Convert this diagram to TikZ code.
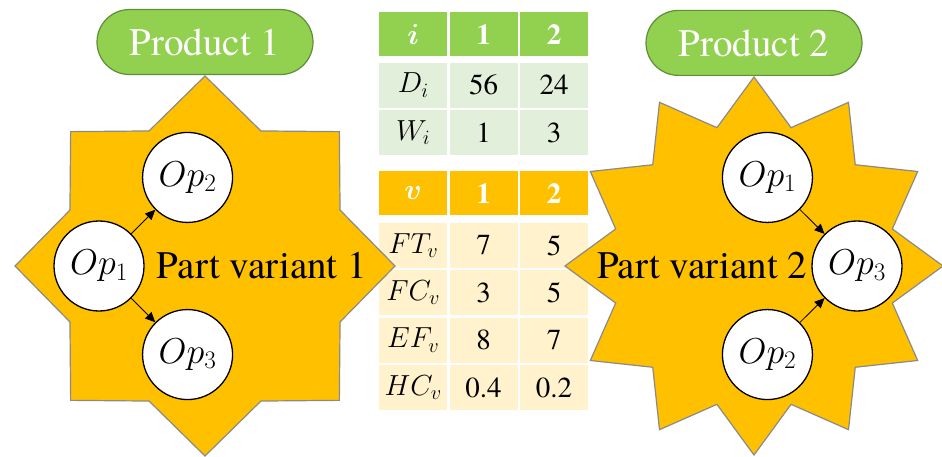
\RequirePackage{fix-cm}
\documentclass[tikz,border=0pt]{standalone}
\usepackage{amsmath}
\usepackage{fontspec}
\newfontfamily\tnr{texgyretermes}[Extension=.otf, UprightFont=*-regular, BoldFont=*-bold, ItalicFont=*-italic, BoldItalicFont=*-bolditalic]
\usepackage{xcolor}
\usepackage{tikz}
\usetikzlibrary{shapes.geometric, shapes.misc, arrows.meta, positioning}
\definecolor{prodgreen}{HTML}{92D050}
\definecolor{prodedge}{HTML}{5E8E3A}
\definecolor{greenlight}{HTML}{E2EFDA}
\definecolor{starorange}{HTML}{FFC000}
\definecolor{orangelight}{HTML}{FFF2CC}
\definecolor{staredge}{HTML}{8A8A8A}
\tikzset{
    product/.style={
        rounded rectangle,
        draw=prodedge,
        line width=1.2pt,
        fill=prodgreen,
        minimum width=216pt,
        minimum height=65pt,
        inner sep=0pt,
        text=white,
        font=\tnr\fontsize{39}{46}\selectfont
    },
    variant/.style={
        star,
        draw=staredge,
        line width=1.2pt,
        fill=starorange,
        inner sep=0pt
    },
    opnode/.style={
        circle,
        draw=black,
        line width=1.3pt,
        fill=white,
        minimum size=90pt,
        inner sep=0pt,
        font=\fontsize{36}{42}\selectfont
    },
    flow/.style={
        draw=black,
        line width=0.8pt,
        -{Triangle[length=10pt,width=9pt]}
    },
    varlabel/.style={
        inner sep=0pt,
        font=\tnr\fontsize{39}{46}\selectfont
    },
    cell/.style={
        rectangle,
        minimum width=68pt,
        minimum height=45pt,
        inner sep=0pt,
        font=\tnr\fontsize{29}{34}\selectfont
    },
    headA/.style={
        cell,
        minimum height=44pt,
        fill=prodgreen,
        text=white,
        font=\tnr\fontsize{29}{34}\selectfont\bfseries
    },
    bodyA/.style={
        cell,
        fill=greenlight
    },
    headB/.style={
        cell,
        minimum height=44pt,
        fill=starorange,
        text=white,
        font=\tnr\fontsize{29}{34}\selectfont\bfseries
    },
    bodyB/.style={
        cell,
        fill=orangelight
    }
}
\begin{document}
\begin{tikzpicture}[x=1pt, y=-1pt]
\useasboundingbox (0,0) rectangle (942,457);

% Product table
\node[headA, anchor=north west] (i0) at (379,12) {$\boldsymbol{i}$};
\node[headA, right=2pt of i0] (i1) {1};
\node[headA, right=2pt of i1] (i2) {2};

\node[bodyA, below=6pt of i0] (d0) {$D_i$};
\node[bodyA, below=6pt of i1] (d1) {56};
\node[bodyA, below=6pt of i2] (d2) {24};

\node[bodyA, below=2pt of d0] (w0) {$W_i$};
\node[bodyA, below=2pt of d1] (w1) {1};
\node[bodyA, below=2pt of d2] (w2) {3};

% Variant table
\node[headB, below=16pt of w0] (v0) {$\boldsymbol{v}$};
\node[headB, below=16pt of w1] (v1) {1};
\node[headB, below=16pt of w2] (v2) {2};

\node[bodyB, below=7pt of v0] (ft0) {$FT_v$};
\node[bodyB, below=7pt of v1] (ft1) {7};
\node[bodyB, below=7pt of v2] (ft2) {5};

\node[bodyB, below=2pt of ft0] (fc0) {$FC_v$};
\node[bodyB, below=2pt of ft1] (fc1) {3};
\node[bodyB, below=2pt of ft2] (fc2) {5};

\node[bodyB, below=2pt of fc0] (ef0) {$EF_v$};
\node[bodyB, below=2pt of fc1] (ef1) {8};
\node[bodyB, below=2pt of fc2] (ef2) {7};

\node[bodyB, below=2pt of ef0] (hc0) {$HC_v$};
\node[bodyB, below=2pt of ef1] (hc1) {0.4};
\node[bodyB, below=2pt of ef2] (hc2) {0.2};

% Part variant 1
\node[variant, star points=8, star point ratio=1.30, minimum size=380pt] (star1) at (205,266) {};
\node[opnode] (a1) at (99,266) {$Op_1$};
\node[opnode, above right=24pt and 24pt of a1] (a2) {$Op_2$};
\node[opnode, below right=24pt and 24pt of a1] (a3) {$Op_3$};
\draw[flow] (a1) -- (a2);
\draw[flow] (a1) -- (a3);
\node[varlabel, right=12pt of a1] (pv1) {Part variant 1};

% Part variant 2
\node[variant, star points=12, star point ratio=1.32, minimum size=378pt] (star2) at (754,266) {};
\node[opnode] (b3) at (857,266) {$Op_3$};
\node[opnode, above left=24pt and 25pt of b3] (b1) {$Op_1$};
\node[opnode, below left=24pt and 25pt of b3] (b2) {$Op_2$};
\draw[flow] (b1) -- (b3);
\draw[flow] (b2) -- (b3);
\node[varlabel, left=4pt of b3] (pv2) {Part variant 2};

% Product tags
\node[product, above=0pt of star1] (prod1) {Product 1};
\node[product, above=0pt of star2] (prod2) {Product 2};

\end{tikzpicture}
\end{document}
